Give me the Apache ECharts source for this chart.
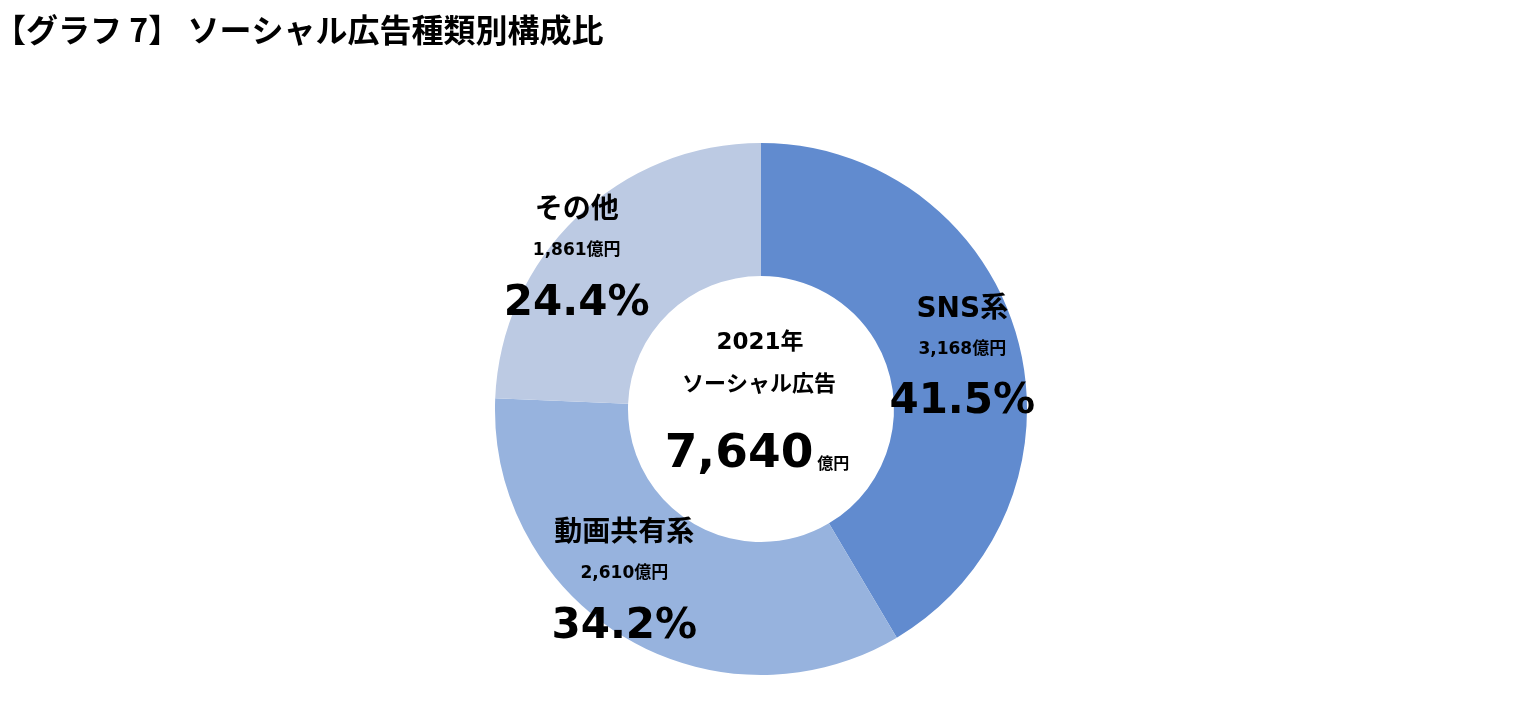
<!DOCTYPE html>
<html><head><meta charset="utf-8">
<script src="https://cdn.jsdelivr.net/npm/echarts@6/dist/echarts.min.js"></script>
<style>html,body{margin:0;padding:0;background:#fff}#c{width:1526px;height:720px}</style>
</head><body><div id="c"></div>
<script>
const categories = ['SNS系', '動画共有系', 'その他'];
const values = [3168, 2610, 1861];
const percents = ['41.5%', '34.2%', '24.4%'];
const totalLabel = '7,640';
const yearLabel = '2021年';
const centerLabel = 'ソーシャル広告';
const titleText = '【グラフ 7】 ソーシャル広告種類別構成比';

const colors = ['#618bcf', '#97b3de', '#bccae3'];
const offsets = [[6, 7], [-33, 4], [-44, 1]];
const LAT = '"DejaVu Sans", "Noto Sans CJK JP", sans-serif';
const JP = '"Noto Sans CJK JP", sans-serif';
const INK = '#000';

const chart = echarts.init(document.getElementById('c'));
chart.setOption({
  animation: false,
  graphic: [
    {type: 'text', left: -6, top: 14, style: {text: titleText, font: 'bold 32px ' + JP, fill: INK}},
    {type: 'text', x: 760, y: 343, style: {text: yearLabel, font: 'bold 23px ' + LAT, fill: INK, align: 'center', verticalAlign: 'middle'}},
    {type: 'text', x: 759, y: 383, style: {text: centerLabel, font: 'bold 22px ' + JP, fill: INK, align: 'center', verticalAlign: 'middle'}},
    {type: 'text', x: 757, y: 455, style: {
      text: '{n|' + totalLabel + '}{u|億円}', align: 'center', verticalAlign: 'middle',
      rich: {
        n: {font: 'bold 47px ' + LAT, fill: INK, lineHeight: 60},
        u: {font: 'bold 16px ' + JP, fill: INK, lineHeight: 60, verticalAlign: 'bottom', padding: [0, 0, 14, 4]}
      }
    }}
  ],
  series: [{
    type: 'pie',
    center: [761, 409],
    radius: [133, 266],
    startAngle: 90,
    clockwise: true,
    avoidLabelOverlap: false,
    label: {
      show: true, position: 'inside',
      formatter: p => '{n|' + p.name + '}\n{v|' + p.value.toLocaleString('en-US') + '億円}\n{p|' + percents[p.dataIndex] + '}',
      rich: {
        n: {fontFamily: LAT, fontWeight: 'bold', fontSize: 28, color: INK, lineHeight: 36},
        v: {fontFamily: LAT, fontWeight: 'bold', fontSize: 17, color: INK, lineHeight: 44},
        p: {fontFamily: LAT, fontWeight: 'bold', fontSize: 42, color: INK, lineHeight: 62}
      }
    },
    labelLine: {show: false},
    emphasis: {disabled: true},
    data: categories.map((c, i) => ({
      name: c, value: values[i],
      itemStyle: {color: colors[i]},
      label: {offset: offsets[i]}
    }))
  }]
});
</script></body></html>
